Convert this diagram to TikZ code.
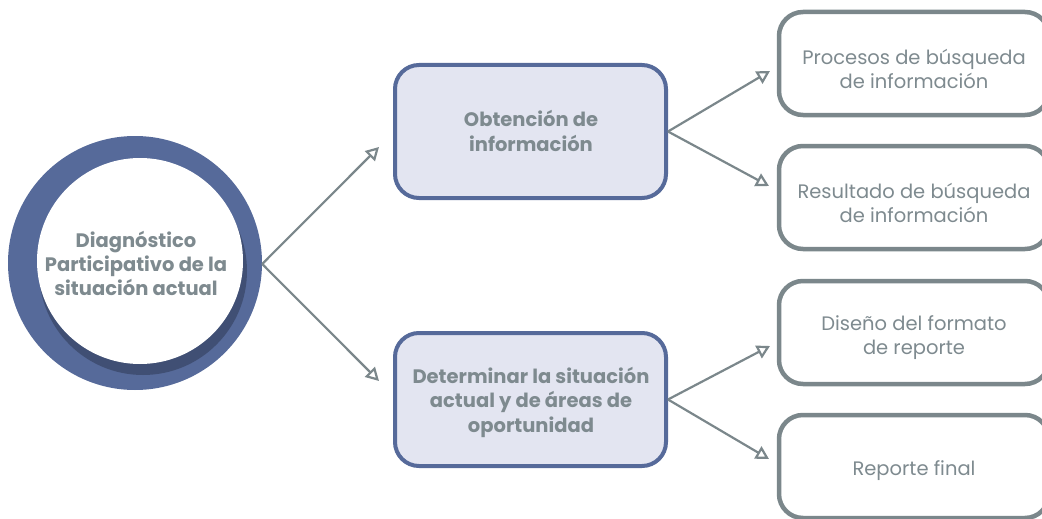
\documentclass[tikz,border=0pt]{standalone}
\usepackage{fontspec}
\setmainfont{Poppins}
\usetikzlibrary{arrows.meta}
\definecolor{ringblue}{HTML}{566A9A}
\definecolor{shadowblue}{HTML}{3E4D70}
\definecolor{boxfill}{HTML}{E3E5F1}
\definecolor{txtgray}{HTML}{7E8A8F}
\definecolor{linegray}{HTML}{7B878B}
\tikzset{
  mainbox/.style={draw=ringblue, line width=4pt, fill=boxfill, rounded corners=24pt,
    minimum width=271pt, minimum height=133pt},
  subbox/.style={draw=linegray, line width=4.5pt, fill=white, rounded corners=24pt,
    minimum width=270pt, minimum height=103pt},
  maintext/.style={align=center, text=txtgray, font=\fontsize{19.5}{24.5}\selectfont\bfseries},
  subtext/.style={align=center, text=txtgray, font=\fontsize{19.5}{24.5}\selectfont},
  conn/.style={draw=linegray, line width=2.2pt,
    -{Triangle[open, length=13pt, width=14pt, line width=2.2pt]}},
}
\begin{document}
\begin{tikzpicture}[x=1pt,y=-1pt]
\useasboundingbox (0,0) rectangle (1042,519);
\clip (0,0) rectangle (1042,519);
% circle
\node[circle, fill=ringblue, minimum size=254pt, inner sep=0pt] (circ) at (135,263) {};
\fill[shadowblue, opacity=0.9] (143,271) circle (104pt);
\fill[white] (140,261) circle (103pt);
\node[maintext, font=\fontsize{19.5}{24}\selectfont\bfseries] (ctext) at (136,263)
  {Diagnóstico\\Participativo de la\\situación actual};
% main boxes
\node[mainbox] (b1) at (530.5,131.5) {};
\node[maintext] (b1t) at (531,131) {Obtención de\\información};
\node[mainbox] (b2) at (530.5,399.5) {};
\node[maintext] (b2t) at (531,402) {Determinar la situación\\actual y de áreas de\\oportunidad};
% sub boxes
\node[subbox] (s1) at (914,63.5) {};
\node[subtext] (s1t) at (914,69) {Procesos de búsqueda\\de información};
\node[subbox] (s2) at (914,197.5) {};
\node[subtext] (s2t) at (914,203) {Resultado de búsqueda\\de información};
\node[subbox] (s3) at (914,332.5) {};
\node[subtext] (s3t) at (914,337.5) {Diseño del formato\\de reporte};
\node[subbox] (s4) at (914,466.5) {};
\node[subtext] (s4t) at (914,471) {Reporte final};
% arrow end points
\coordinate (t1) at (379,147);
\coordinate (t2) at (379,381);
\coordinate (t3) at (770,71);
\coordinate (t4) at (769,186);
\coordinate (t5) at (770,346);
\coordinate (t6) at (769,459);
\coordinate (o1) at ([yshift=-1pt]circ.east);
\draw[conn] (o1) -- (t1);
\draw[conn] (o1) -- (t2);
\draw[conn] (b1.east) -- (t3);
\draw[conn] (b1.east) -- (t4);
\draw[conn] (b2.east) -- (t5);
\draw[conn] (b2.east) -- (t6);
\end{tikzpicture}
\end{document}
